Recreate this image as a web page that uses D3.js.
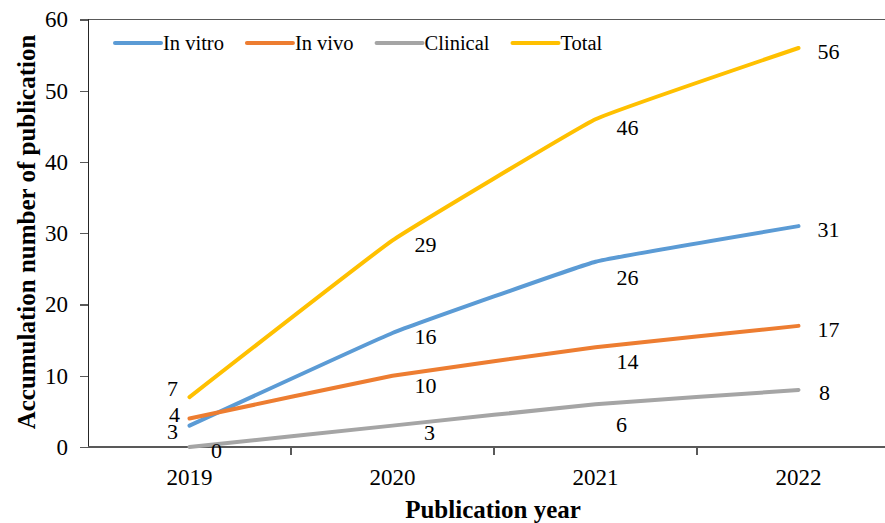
<!DOCTYPE html>
<html>
<head>
<meta charset="utf-8">
<script src="https://cdn.jsdelivr.net/npm/d3@7"></script>
<style>
  body { margin: 0; background: #fff; }
  svg { display: block; }
</style>
</head>
<body>
<script>
// Chart data
var years = ["2019", "2020", "2021", "2022"];
var seriesNames = ["In vitro", "In vivo", "Clinical", "Total"];
var inVitro = [3, 16, 26, 31];
var inVivo = [4, 10, 14, 17];
var clinical = [0, 3, 6, 8];
var total = [7, 29, 46, 56];
var yTicks = [0, 10, 20, 30, 40, 50, 60];

var colors = ["#5B9BD5", "#ED7D31", "#A5A5A5", "#FFC000"];
// label nudges (dx, dy) from each point, one row per series
var nudges = [
  [[-17, 6], [33, 3], [32, 16], [30, 3]],
  [[-15, -4], [33, 10], [32, 14], [30, 3]],
  [[27, 3], [37, 7], [26, 20], [26, 2]],
  [[-17, -9], [33, 4], [32, 8], [30, 3]]
];

var series = [inVitro, inVivo, clinical, total].map(function(vals, i) {
  return {name: seriesNames[i], values: vals, color: colors[i], nudge: nudges[i]};
});

function font(sel, size, bold) {
  sel.attr("font-family", "Liberation Serif")
     .style("font-family", "Liberation Serif")
     .style("font-size", size + "px")
     .style("font-weight", bold ? "bold" : "normal")
     .style("fill", "#000");
}

var width = 885, height = 523,
    margin = {top: 19.5, left: 88, bottom: 447},
    band = 203;

var svg = d3.select("body").append("svg")
    .attr("width", width)
    .attr("height", height);

var x = d3.scaleBand()
    .domain(years)
    .range([margin.left, margin.left + band * years.length]);

var y = d3.scaleLinear()
    .domain([0, 60])
    .range([margin.bottom, margin.top]);

function cx(yr) { return x(yr) + x.bandwidth() / 2; }

function axisStyle(sel) {
  sel.attr("stroke", "#595959")
     .attr("stroke-width", 1.4)
     .attr("fill", "none")
     .attr("shape-rendering", "crispEdges");
}

// plot area border (runs off the right edge)
svg.append("path")
    .attr("d", "M" + margin.left + "," + y(60) + "H" + (margin.left + band * years.length))
    .call(axisStyle);

// y axis
var yAxis = svg.append("g")
    .attr("transform", "translate(" + margin.left + ",0)")
    .call(d3.axisLeft(y).tickValues(yTicks).tickSize(8).tickPadding(12));
yAxis.attr("font-family", null).attr("font-size", null);
yAxis.selectAll("line").call(axisStyle);
yAxis.select(".domain").call(axisStyle).attr("stroke", "#262626");
yAxis.selectAll("text").call(font, 23);

// x axis: ticks on category boundaries, labels at band centres
var xg = svg.append("g");
xg.append("path")
    .attr("d", "M" + margin.left + "," + y(0) + "H" + width)
    .call(axisStyle);
xg.selectAll("line")
    .data(years.slice(1))
  .enter().append("line")
    .attr("x1", function(d) { return x(d); })
    .attr("x2", function(d) { return x(d); })
    .attr("y1", y(0))
    .attr("y2", y(0) + 8)
    .call(axisStyle);
xg.selectAll("text")
    .data(years)
  .enter().append("text")
    .attr("x", cx)
    .attr("y", 485)
    .attr("text-anchor", "middle")
    .text(function(d) { return d; })
    .call(font, 23);

// lines (Excel-style light smoothing)
var line = d3.line()
    .x(function(d, i) { return cx(years[i]); })
    .y(function(d) { return y(d); })
    .curve(d3.curveCardinal.tension(0.75));

svg.selectAll(".series")
    .data(series)
  .enter().append("path")
    .attr("class", "series")
    .attr("d", function(d) { return line(d.values); })
    .attr("fill", "none")
    .attr("stroke", function(d) { return d.color; })
    .attr("stroke-width", 4)
    .attr("stroke-linecap", "round")
    .attr("stroke-linejoin", "round");

// data labels
series.forEach(function(s) {
  svg.selectAll(null)
      .data(s.values)
    .enter().append("text")
      .attr("x", function(d, i) { return cx(years[i]) + s.nudge[i][0]; })
      .attr("y", function(d, i) { return y(d) + s.nudge[i][1]; })
      .attr("dy", "0.35em")
      .attr("text-anchor", "middle")
      .text(function(d) { return d; })
      .call(font, 22);
});

// legend
var legend = svg.append("g");
var lx = 115, ly = 43;
series.forEach(function(s) {
  legend.append("line")
      .attr("x1", lx).attr("x2", lx + 46)
      .attr("y1", ly).attr("y2", ly)
      .attr("stroke", s.color)
      .attr("stroke-width", 4)
      .attr("stroke-linecap", "round");
  var t = legend.append("text")
      .attr("x", lx + 48)
      .attr("y", ly)
      .attr("dy", "0.35em")
      .text(s.name)
      .call(font, 20.5);
  lx += 48 + t.node().getComputedTextLength() + 23;
});

// axis titles
svg.append("text")
    .attr("transform", "translate(35,232) rotate(-90)")
    .attr("text-anchor", "middle")
    .text("Accumulation number of publication")
    .call(font, 25, true);

svg.append("text")
    .attr("x", 493)
    .attr("y", 518)
    .attr("text-anchor", "middle")
    .text("Publication year")
    .call(font, 25, true);
</script>
</body>
</html>
